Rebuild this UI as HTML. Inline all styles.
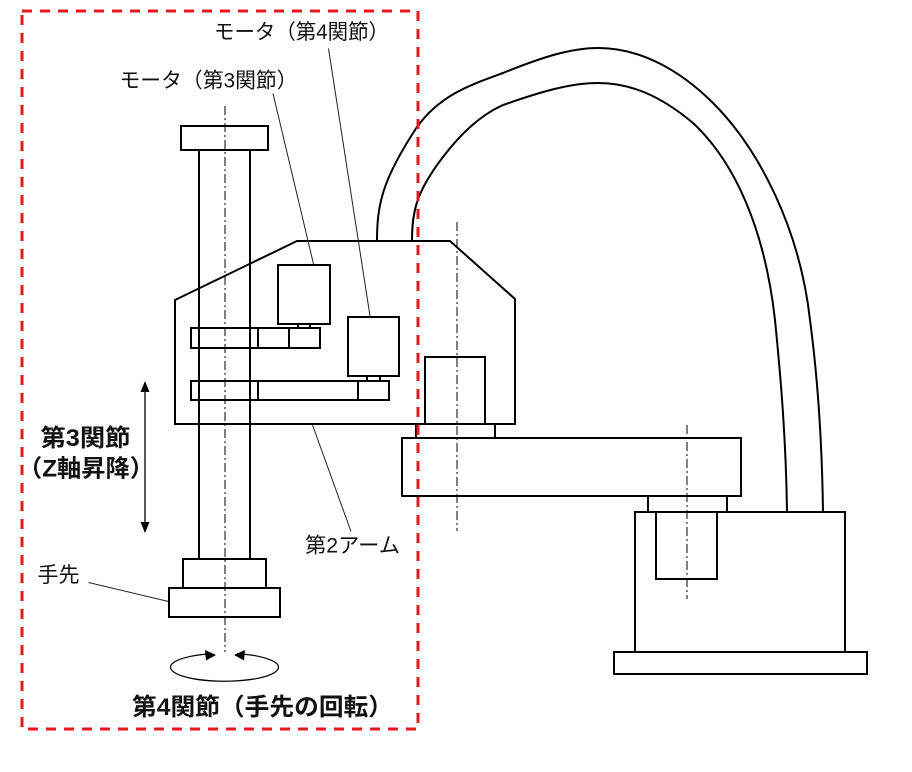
<!DOCTYPE html>
<html><head><meta charset="utf-8"><style>
html,body{margin:0;padding:0;background:#fff;}
svg{display:block;}
text{font-family:"Liberation Sans","Noto Sans CJK JP",sans-serif;fill:#111;}
.b{font-weight:bold;font-size:24px;}
.n{font-size:21px;}
</style></head><body>
<svg width="912" height="772" viewBox="0 0 912 772" xmlns="http://www.w3.org/2000/svg">
<rect width="912" height="772" fill="#fff"/>
<g fill="none" stroke="#000" stroke-width="2">
  <!-- column -->
  <rect x="181" y="126" width="87" height="24"/>
  <line x1="199" y1="150" x2="199" y2="559"/>
  <line x1="250" y1="150" x2="250" y2="559"/>
  <rect x="183" y="559" width="83" height="29"/>
  <rect x="169" y="588" width="111" height="29"/>
  <!-- housing -->
  <polygon points="175,424 175,300 297,241 450,241 515,299 515,424"/>
  <rect x="278" y="265" width="52" height="59"/>
  <rect x="298" y="324" width="12" height="4"/>
  <rect x="191" y="328" width="129" height="20"/>
  <line x1="258" y1="328" x2="258" y2="348"/>
  <line x1="289" y1="328" x2="289" y2="348"/>
  <rect x="348" y="317" width="51" height="59"/>
  <rect x="367" y="376" width="13" height="5"/>
  <rect x="191" y="381" width="198" height="19"/>
  <line x1="258" y1="381" x2="258" y2="400"/>
  <line x1="358" y1="381" x2="358" y2="400"/>
  <rect x="425" y="357" width="60" height="67"/>
  <!-- arm 1 and base -->
  <rect x="416" y="424" width="79" height="14"/>
  <rect x="402" y="438" width="339" height="58"/>
  <rect x="648" y="496" width="79" height="16"/>
  <rect x="635" y="512" width="210" height="140"/>
  <rect x="656" y="512" width="61" height="67"/>
  <rect x="614" y="652" width="253" height="22"/>
  <!-- cable -->
  <path d="M377,241 C377,205 382,180 417,127 C440,95 470,85 503,73 C540,58 570,48 598,48 C640,48 680,70 713,103 C760,150 800,230 810,320 C818,380 822,440 823,512"/>
  <path d="M412,241 C412,212 416,192 443,157 C465,128 485,113 503,105 C540,92 570,83 598,83 C632,83 662,97 693,123 C735,162 765,230 775,320 C781,380 786,440 787,512"/>
</g>
<!-- center lines -->
<g stroke="#000" stroke-width="1" stroke-dasharray="9 3 2 3" fill="none">
  <line x1="225" y1="106" x2="225" y2="652"/>
  <line x1="457" y1="222" x2="457" y2="531"/>
  <line x1="687" y1="425" x2="687" y2="599"/>
</g>
<!-- leaders -->
<g stroke="#222" stroke-width="1" fill="none">
  <line x1="328.5" y1="48.5" x2="370" y2="316"/>
  <line x1="273" y1="93.5" x2="313.5" y2="264"/>
  <line x1="351" y1="531.5" x2="312.5" y2="425"/>
  <line x1="88.5" y1="582.5" x2="168.5" y2="601.5"/>
</g>
<!-- vertical double arrow -->
<line x1="145" y1="390" x2="145" y2="524" stroke="#000" stroke-width="1.3"/>
<polygon points="145,381 140.5,392 149.5,392" fill="#000"/>
<polygon points="145,533 140.5,522 149.5,522" fill="#000"/>
<!-- rotation ellipse -->
<path d="M212,653.6 A54,14 0 1,0 237,653.6" fill="none" stroke="#000" stroke-width="1.2"/>
<polygon points="216,655 205,650 206,660.5" fill="#000"/>
<polygon points="234,655 245,650 244,660.5" fill="#000"/>
<!-- texts -->
<text class="n" x="214" y="39" textLength="175" lengthAdjust="spacingAndGlyphs">モータ（第4関節）</text>
<text class="n" x="119.5" y="87.3" textLength="178" lengthAdjust="spacingAndGlyphs">モータ（第3関節）</text>
<text class="n" x="305" y="552.3" textLength="95" lengthAdjust="spacingAndGlyphs">第2アーム</text>
<text class="n" x="37.5" y="581.8" textLength="42" lengthAdjust="spacingAndGlyphs">手先</text>
<text class="b" x="40.5" y="446" textLength="90" lengthAdjust="spacingAndGlyphs">第3関節</text>
<text class="b" x="18" y="476.6" textLength="136" lengthAdjust="spacingAndGlyphs">（Z軸昇降）</text>
<text class="b" x="132" y="715" textLength="261" lengthAdjust="spacingAndGlyphs">第4関節（手先の回転）</text>
<!-- red dashed frame -->
<rect x="22" y="11" width="396" height="718" fill="none" stroke="#e3191c" stroke-width="3" stroke-dasharray="10 8"/>
</svg>
</body></html>
